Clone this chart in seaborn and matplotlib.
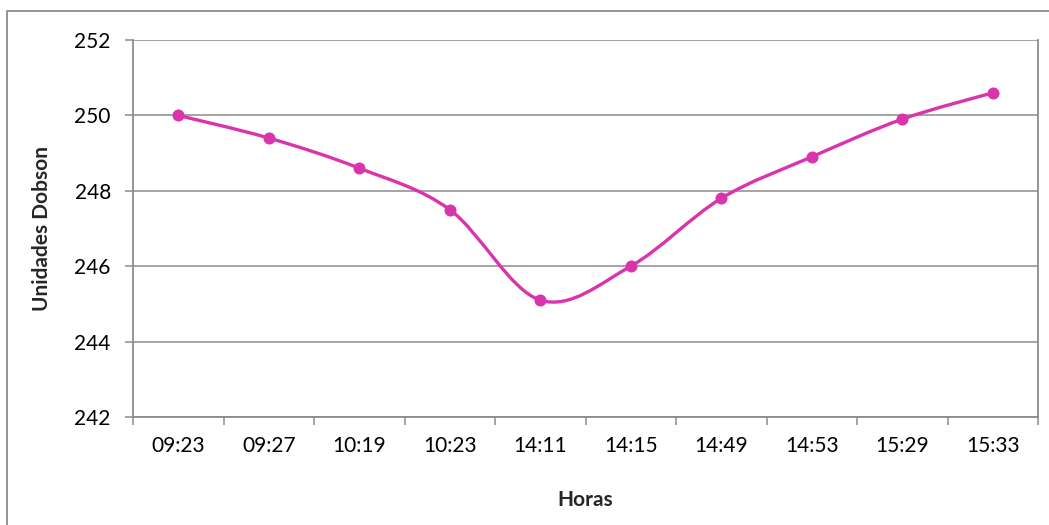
import numpy as np
import seaborn as sns
import matplotlib.pyplot as plt
from matplotlib.path import Path
from matplotlib.patches import PathPatch, Rectangle

horas = ["09:23", "09:27", "10:19", "10:23", "14:11",
         "14:15", "14:49", "14:53", "15:29", "15:33"]
dobson = [250.0, 249.4, 248.6, 247.5, 245.1,
          246.0, 247.8, 248.9, 249.9, 250.6]

color = "#DA33AE"
grid_c = "#8C8C8C"

sns.set_theme(style="white")
plt.rcParams["font.family"] = ["Lato", "DejaVu Sans"]

fig = plt.figure(figsize=(10.49, 5.25), dpi=100)
ax = fig.add_axes([133 / 1049, 108 / 525, 905 / 1049, 377 / 525])

x = np.arange(len(horas))
y = np.array(dobson)

# smoothed line (Catmull-Rom as Bezier curves, like Excel)
px = np.concatenate([[x[0]], x, [x[-1]]])
py = np.concatenate([[y[0]], y, [y[-1]]])
verts = [(x[0], y[0])]
codes = [Path.MOVETO]
for i in range(1, len(px) - 2):
    c1 = (px[i] + (px[i + 1] - px[i - 1]) / 6, py[i] + (py[i + 1] - py[i - 1]) / 6)
    c2 = (px[i + 1] - (px[i + 2] - px[i]) / 6, py[i + 1] - (py[i + 2] - py[i]) / 6)
    verts += [c1, c2, (px[i + 1], py[i + 1])]
    codes += [Path.CURVE4] * 3
ax.add_patch(PathPatch(Path(verts, codes), facecolor="none", edgecolor=color,
                       lw=2.4, zorder=3, capstyle="round"))

sns.scatterplot(x=x, y=y, color=color, s=75, edgecolor=color, linewidth=0,
                zorder=4, ax=ax)

ax.set_xlim(-0.5, len(horas) - 0.5)
ax.set_ylim(242, 252)
ax.set_yticks(np.arange(242, 253, 2))
ax.set_xticks(x)
ax.set_xticklabels(horas)
ax.set_xticks(np.arange(-0.5, len(horas), 1), minor=True)
ax.tick_params(axis="x", which="major", length=0, pad=14, labelsize=15, colors="black")
ax.tick_params(axis="x", which="minor", length=6, width=1.1, color=grid_c, direction="out", bottom=True)
ax.tick_params(axis="y", which="major", length=6, width=1.1, color=grid_c, direction="out",
               left=True, pad=10, labelsize=15, labelcolor="black")

ax.yaxis.grid(True, color=grid_c, lw=1.1)
ax.set_axisbelow(True)
for side in ["left", "bottom", "right"]:
    ax.spines[side].set_color(grid_c)
    ax.spines[side].set_linewidth(1.3)
ax.spines["top"].set_visible(False)

ax.set_xlabel("Horas", fontsize=15, fontweight="bold", labelpad=24)
ax.set_ylabel("Unidades Dobson", fontsize=15, fontweight="bold", labelpad=16)

# outer chart frame
fig.patches.append(Rectangle((7 / 1049, -0.1), 1.2, (514 / 525) + 0.1,
                             transform=fig.transFigure, fill=False,
                             edgecolor=grid_c, lw=1.3))

fig.savefig("out.png", dpi=100)
